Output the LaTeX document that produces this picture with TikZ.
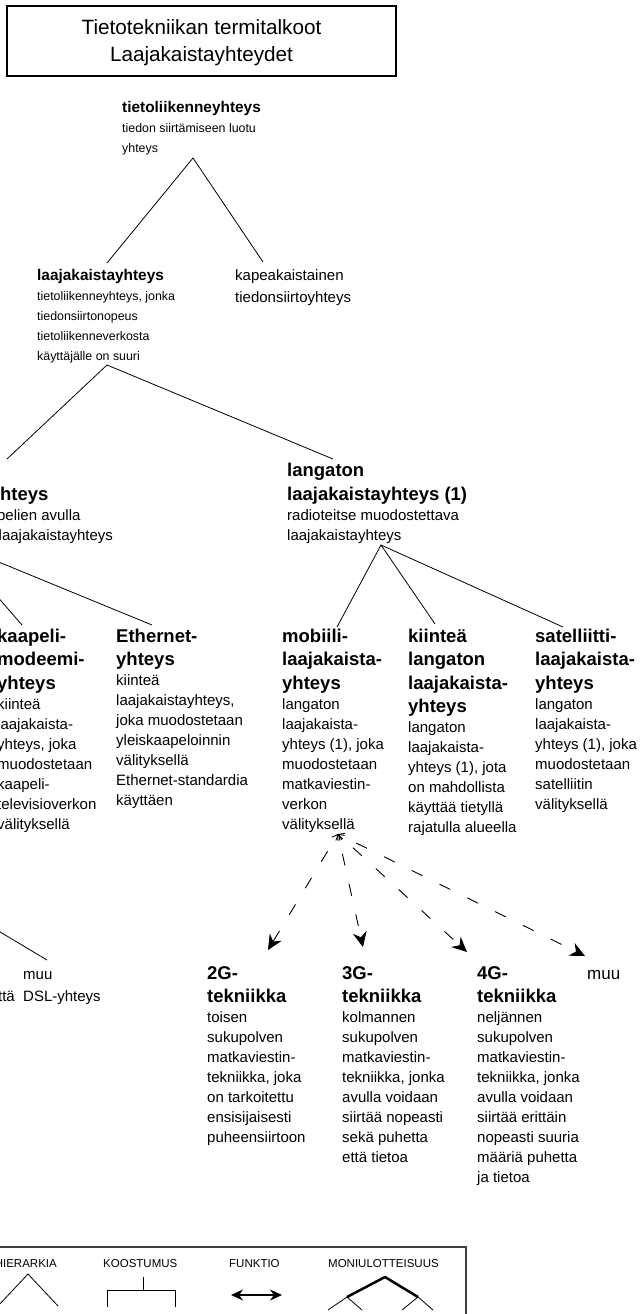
\documentclass[tikz,border=0pt]{standalone}
\usepackage{fontspec}
\setmainfont{Liberation Sans}
\usetikzlibrary{arrows.meta}

% one line of a term card: headings (A = upper level, B = lower level) and definitions
\newcommand\hA[1]{\hbox{\fontsize{15.4}{20}\selectfont\bfseries #1}}
\newcommand\dA[1]{\hbox{\fontsize{12.4}{20}\selectfont #1}}
\newcommand\hB[1]{\hbox{\fontsize{18.5}{23}\selectfont\bfseries #1}}
\newcommand\dB[1]{\hbox{\fontsize{15}{20}\selectfont #1}}
\newcommand\skipto[1]{\baselineskip=#1pt\relax}
% stack of lines whose baseline is the first line's baseline
\newcommand\termstack[1]{\vtop{\lineskiplimit=-\maxdimen #1}}

\begin{document}
\begin{tikzpicture}[x=1pt,y=-1pt,
  term/.style={anchor=base west, inner sep=0pt},
  link/.style={draw=black, line width=0.8pt},
  func/.style={draw=black, line width=0.9pt, dash pattern=on 12pt off 19pt, dash phase=12pt,
    {Straight Barb[length=5pt,width=7pt]}-{Stealth[length=15pt,width=14pt,inset=5pt]}},
  legendframe/.style={draw=black!75, line width=1.3pt},
  legendlabel/.style={inner sep=0pt, font=\fontsize{11.5}{13}\selectfont}]
\useasboundingbox (0,0) rectangle (640,1314);
\clip (0,0) rectangle (640,1314);

% ---------- title ----------
\node[draw, line width=2pt, minimum width=389pt, minimum height=70pt, inner sep=0pt] (title) at (201.5,41) {};
\node[anchor=base, inner sep=0pt] (titletext) at (201.5,35)
  {\fontsize{20.7}{27}\selectfont\begin{tabular}[t]{@{}c@{}}Tietotekniikan termitalkoot\\Laajakaistayhteydet\end{tabular}};

% ---------- level 0 and 1 ----------
\node[term] (tlk) at (122,112) {\termstack{\skipto{20}\hA{tietoliikenneyhteys}\dA{tiedon siirtämiseen luotu}\dA{yhteys}}};
\node[term] (laaja) at (37,280) {\termstack{\skipto{20}\hA{laajakaistayhteys}\dA{tietoliikenneyhteys, jonka}\dA{tiedonsiirtonopeus}\dA{tietoliikenneverkosta}\dA{käyttäjälle on suuri}}};
\node[term] (kapea) at (235,280) {\termstack{\skipto{22}\dB{kapeakaistainen}\dB{tiedonsiirtoyhteys}}};

\coordinate (tlk-foot) at (193,158);
\coordinate (laaja-head) at (107,263);
\coordinate (kapea-head) at (263,262);
\draw[link] (laaja-head) -- (tlk-foot) -- (kapea-head);

% ---------- level 2 ----------
\node[term] (kiintea) at (-104,476) {\termstack{\skipto{24}\hB{kiinteä}\hB{laajakaistayhteys}\skipto{20}\dB{johtojen tai kaapelien avulla}\dB{muodostettava laajakaistayhteys}}};
\node[term] (langaton) at (287,476) {\termstack{\skipto{24}\hB{langaton}\hB{laajakaistayhteys (1)}\skipto{20}\dB{radioteitse muodostettava}\dB{laajakaistayhteys}}};

\coordinate (laaja-foot) at (107,365);
\coordinate (kiintea-head) at (7,459);
\coordinate (langaton-head) at (333,459);
\draw[link] (kiintea-head) -- (laaja-foot) -- (langaton-head);

% ---------- level 3 ----------
\node[term] (kaapeli) at (-3,642) {\termstack{\skipto{23.5}\hB{kaapeli-}\hB{modeemi-}\hB{yhteys}\skipto{20}\dB{kiinteä}\dB{laajakaista-}\dB{yhteys, joka}\dB{muodostetaan}\dB{kaapeli-}\dB{televisioverkon}\dB{välityksellä}}};
\node[term] (ethernet) at (116,642) {\termstack{\skipto{23.5}\hB{Ethernet-}\hB{yhteys}\skipto{20}\dB{kiinteä}\dB{laajakaistayhteys,}\dB{joka muodostetaan}\dB{yleiskaapeloinnin}\dB{välityksellä}\dB{Ethernet-standardia}\dB{käyttäen}}};
\node[term] (mobiili) at (282,642) {\termstack{\skipto{23.5}\hB{mobiili-}\hB{laajakaista-}\hB{yhteys}\skipto{20}\dB{langaton}\dB{laajakaista-}\dB{yhteys (1), joka}\dB{muodostetaan}\dB{matkaviestin-}\dB{verkon}\dB{välityksellä}}};
\node[term] (klanga) at (408,642) {\termstack{\skipto{23.5}\hB{kiinteä}\hB{langaton}\hB{laajakaista-}\hB{yhteys}\skipto{20}\dB{langaton}\dB{laajakaista-}\dB{yhteys (1), jota}\dB{on mahdollista}\dB{käyttää tietyllä}\dB{rajatulla alueella}}};
\node[term] (satelliitti) at (535,642) {\termstack{\skipto{23.5}\hB{satelliitti-}\hB{laajakaista-}\hB{yhteys}\skipto{20}\dB{langaton}\dB{laajakaista-}\dB{yhteys (1), joka}\dB{muodostetaan}\dB{satelliitin}\dB{välityksellä}}};

\coordinate (kiintea-foot) at (-50,542);
\coordinate (kaapeli-head) at (22,625);
\coordinate (ethernet-head) at (152,625);
\draw[link] (kaapeli-head) -- (kiintea-foot) -- (ethernet-head);

\coordinate (langaton-foot) at (381,545);
\coordinate (mobiili-head) at (337,627);
\coordinate (klanga-head) at (435,624);
\coordinate (satelliitti-head) at (563,627);
\draw[link] (mobiili-head) -- (langaton-foot) -- (satelliitti-head);
\draw[link] (langaton-foot) -- (klanga-head);

% ---------- DSL branch ----------
\node[anchor=base east, inner sep=0pt] (dsltail) at (15,1001) {\fontsize{15}{20}\selectfont että};
\node[term] (muudsl) at (23,979) {\termstack{\skipto{22}\dB{muu}\dB{DSL-yhteys}}};
\coordinate (dsl-foot) at (-60,896);
\coordinate (muudsl-head) at (47,960);
\draw[link] (dsl-foot) -- (muudsl-head);

% ---------- mobile technologies ----------
\node[term] (g2) at (207,979) {\termstack{\skipto{23}\hB{2G-}\hB{tekniikka}\skipto{20}\dB{toisen}\dB{sukupolven}\dB{matkaviestin-}\dB{tekniikka, joka}\dB{on tarkoitettu}\dB{ensisijaisesti}\dB{puheensiirtoon}}};
\node[term] (g3) at (342,979) {\termstack{\skipto{23}\hB{3G-}\hB{tekniikka}\skipto{20}\dB{kolmannen}\dB{sukupolven}\dB{matkaviestin-}\dB{tekniikka, jonka}\dB{avulla voidaan}\dB{siirtää nopeasti}\dB{sekä puhetta}\dB{että tietoa}}};
\node[term] (g4) at (477,979) {\termstack{\skipto{23}\hB{4G-}\hB{tekniikka}\skipto{20}\dB{neljännen}\dB{sukupolven}\dB{matkaviestin-}\dB{tekniikka, jonka}\dB{avulla voidaan}\dB{siirtää erittäin}\dB{nopeasti suuria}\dB{määriä puhetta}\dB{ja tietoa}}};
\node[term] (muumob) at (587,979) {\fontsize{17}{20}\selectfont muu};

\coordinate (mobiili-foot) at (338,834);
\coordinate (g2-head) at (268,950);
\coordinate (g3-head) at (363,947);
\coordinate (g4-head) at (467,952);
\coordinate (muumob-head) at (585,956);
\draw[func] (mobiili-foot) -- (g2-head);
\draw[func] (mobiili-foot) -- (g3-head);
\draw[func] (mobiili-foot) -- (g4-head);
\draw[func] (mobiili-foot) -- (muumob-head);

% ---------- legend ----------
\draw[legendframe] (-20,1247) -| (466,1330);
\node[legendlabel, anchor=base east] (lg-hier) at (57,1267) {HIERARKIA};
\node[legendlabel, anchor=base west] (lg-koos) at (103,1267) {KOOSTUMUS};
\node[legendlabel, anchor=base west] (lg-funk) at (229,1267) {FUNKTIO};
\node[legendlabel, anchor=base west] (lg-moni) at (328,1267) {MONIULOTTEISUUS};

\draw[line width=0.8pt] (-2,1306) -- (28,1274) -- (58,1306);
\draw[line width=0.9pt] (143,1277) -- (143,1290);
\draw[line width=0.9pt] (107,1307) -- (107,1290) -- (175,1290) -- (175,1307);
\draw[line width=1.2pt, {Stealth[length=12pt,width=11pt]}-{Stealth[length=12pt,width=11pt]}] (231,1295) -- (282,1295);
\draw[line width=2.5pt, line join=round] (347,1297) -- (385,1277) -- (418,1297);
\draw[line width=0.8pt] (328,1310) -- (347,1297) -- (362,1310);
\draw[line width=0.8pt] (402,1310) -- (418,1297) -- (433,1310);
\end{tikzpicture}
\end{document}
